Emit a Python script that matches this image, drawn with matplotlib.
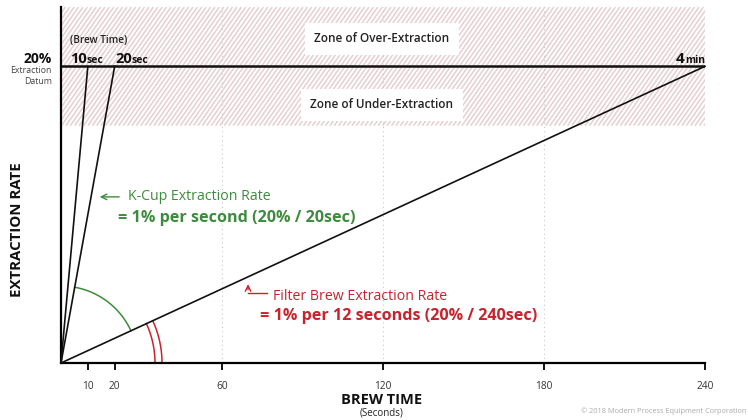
import numpy as np
import matplotlib
matplotlib.use("Agg")
import matplotlib.pyplot as plt
from matplotlib.patches import Rectangle

# --- data -------------------------------------------------------------
brew_times = [10, 20, 240]          # seconds to reach the datum
brew_labels = ["10", "20", "4"]
brew_units = ["sec", "sec", "min"]
datum = 20                          # % extraction
zone_low, zone_high = 16, 24        # hatched band around the datum
x_ticks = [10, 20, 60, 120, 180, 240]
grid_x = [60, 120, 180]

GREEN = "#3d8b3d"
RED = "#c8232c"
HATCH = "#e6cfd3"

plt.rcParams["font.family"] = ["Open Sans", "DejaVu Sans"]

W, H = 748, 420
fig = plt.figure(figsize=(W / 100, H / 100), dpi=100)
L, R, B, T = 61, 705, 363, 7
ax = fig.add_axes([L / W, 1 - B / H, (R - L) / W, (B - T) / H])
ax.set_xlim(0, 240)
ax.set_ylim(0, 24)
sx = (R - L) / 240.0   # px per second
sy = (B - T) / 24.0    # px per %

for s in ["top", "right"]:
    ax.spines[s].set_visible(False)
for s in ["left", "bottom"]:
    ax.spines[s].set_linewidth(1.6)
ax.set_yticks([])
ax.set_xticks(x_ticks)
ax.tick_params(axis="x", length=5, width=1.3, pad=8, labelsize=7.3, labelcolor="#333333")

# hatched zone: steep diagonal stripes clipped to the band
band = Rectangle((0, zone_low), 240, zone_high - zone_low, facecolor="white",
                 edgecolor="none", zorder=0)
ax.add_patch(band)
rise_px = (zone_high - zone_low) * sy
run = rise_px / np.tan(np.deg2rad(55)) / sx      # horizontal run of one stripe, s
step = 4.4 / sx
for c in np.arange(-run, 240 + step, step):
    ln, = ax.plot([c, c + run], [zone_low, zone_high], color=HATCH, lw=1.1,
                  solid_capstyle="butt", zorder=0.2)
    ln.set_clip_path(band)
for g in grid_x:
    ax.axvline(g, color="#c8c8c8", lw=0.8, ls=(0, (1, 3)), zorder=0.5)

# datum line and extraction lines
ax.plot([0, 240], [datum, datum], color="#111111", lw=1.8, zorder=3)
for t in brew_times:
    ax.plot([0, t], [0, datum], color="#111111", lw=1.2, zorder=3, clip_on=False)

# angle arcs (circles in pixel space)
def arc(r_px, a0, a1, **kw):
    th = np.linspace(a0, a1, 60)
    ax.plot(r_px * np.cos(th) / sx, r_px * np.sin(th) / sy, clip_on=False, zorder=2, **kw)

ang = {t: np.arctan2(datum * sy, t * sx) for t in brew_times}
arc(77, ang[240], ang[20], color=GREEN, lw=1.1)
arc(94, 0, ang[240], color=RED, lw=1.1)
arc(101, 0, ang[240], color=RED, lw=1.1)

# zone labels
box = dict(facecolor="white", edgecolor="none", pad=7)
ax.text(119.6, 21.85, "Zone of Over-Extraction", ha="center", va="center",
        fontsize=8.5, fontweight="semibold", color="#222222", bbox=box, zorder=4)
ax.text(119.6, 17.4, "Zone of Under-Extraction", ha="center", va="center",
        fontsize=8.5, fontweight="semibold", color="#222222", bbox=box, zorder=4)

# brew time labels on datum
ax.text(3.4, 21.75, "(Brew Time)", fontsize=7.2, fontweight="semibold",
        color="#222222", va="center", ha="left")
for t, lab, unit in zip(brew_times, brew_labels, brew_units):
    if unit == "min":
        u = ax.text(t, datum + 0.25, unit, fontsize=7.5, fontweight="bold", ha="right",
                    va="baseline", color="#111111")
        ax.annotate(lab, xy=(0, 0), xycoords=u, ha="right", va="bottom",
                    fontsize=11, fontweight="bold", color="#111111")
    else:
        x0 = 3.4 if t == 10 else 20.1
        n = ax.text(x0, datum + 0.25, lab, fontsize=10.5, fontweight="bold", ha="left",
                    va="baseline", color="#111111")
        ax.annotate(unit, xy=(1, 0), xycoords=n, ha="left", va="bottom",
                    fontsize=7.5, fontweight="bold", color="#111111")

ax.text(-3.4, datum + 0.25, "20%", fontsize=10, fontweight="bold", ha="right",
        va="baseline", color="#111111", clip_on=False)
ax.text(-3.4, 19.75, "Extraction", fontsize=6.3, ha="right", va="center", color="#444444")
ax.text(-3.4, 19.0, "Datum", fontsize=6.3, ha="right", va="center", color="#444444")

# K-cup annotation
ax.annotate("", xy=(13.4, 11.2), xytext=(22.7, 11.2),
            arrowprops=dict(arrowstyle="->", color=GREEN, lw=1.0))
ax.text(25, 11.2, "K-Cup Extraction Rate", fontsize=10.2, color=GREEN, va="center")
ax.text(21.2, 9.8, "= 1% per second (20% / 20sec)", fontsize=11.6, fontweight="bold",
        color=GREEN, va="center")

# filter brew annotation
ax.annotate("", xy=(69.7, 5.5), xytext=(69.7, 4.75),
            arrowprops=dict(arrowstyle="->", color=RED, lw=1.0))
ax.plot([69.7, 76.8], [4.75, 4.75], color=RED, lw=1.0)
ax.text(79, 4.5, "Filter Brew Extraction Rate", fontsize=10.2, color=RED, va="center")
ax.text(74.2, 3.15, "= 1% per 12 seconds (20% / 240sec)", fontsize=11.6,
        fontweight="bold", color=RED, va="center")

# axis titles
fig.text(382 / W, 1 - 400 / H, "BREW TIME", ha="center", va="center", fontsize=10.5,
         fontweight="bold", color="#111111")
fig.text(382 / W, 1 - 413 / H, "(Seconds)", ha="center", va="center", fontsize=7,
         color="#222222")
fig.text(17 / W, 1 - 230 / H, "EXTRACTION RATE", ha="center", va="center", rotation=90,
         fontsize=10.8, fontweight="bold", color="#111111")
fig.text(746 / W, 1 - 411 / H, "\u00a9 2018 Modern Process Equipment Corporation",
         ha="right", va="center", fontsize=5.3, color="#aaaaaa")

fig.savefig("out.png", dpi=100)
